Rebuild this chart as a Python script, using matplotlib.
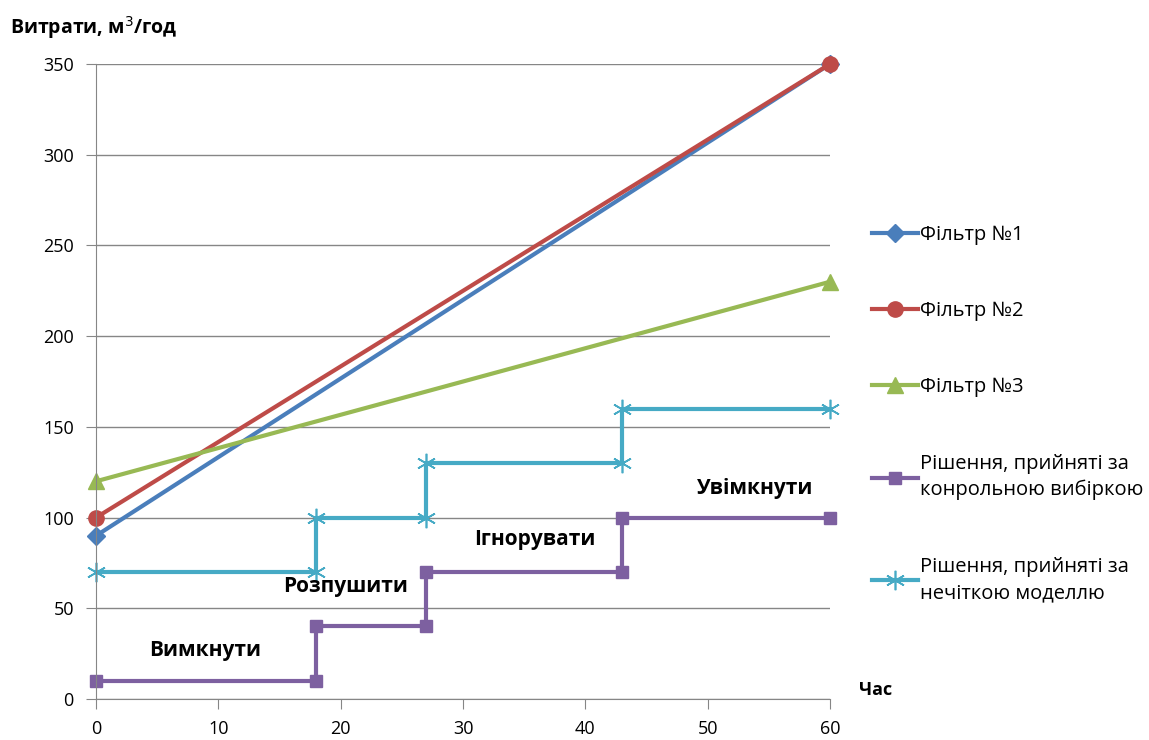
import matplotlib.pyplot as plt

plt.rcParams["font.family"] = ["Open Sans", "DejaVu Sans"]

# data
filter_x = [0, 60]
filter1 = [90, 350]
filter2 = [100, 350]
filter3 = [120, 230]

step_x = [0, 18, 18, 27, 27, 43, 43, 60]
control_decisions = [10, 10, 40, 40, 70, 70, 100, 100]
fuzzy_decisions = [70, 70, 100, 100, 130, 130, 160, 160]

labels = [
    "Фільтр №1",
    "Фільтр №2",
    "Фільтр №3",
    "Рішення, прийняті за\nконрольною вибіркою",
    "Рішення, прийняті за\nнечіткою моделлю",
]
actions = ["Вимкнути", "Розпушити", "Ігнорувати", "Увімкнути"]
action_x = [8.9, 20.4, 35.9, 53.9]
action_y = [27, 62, 88, 116]

colors = ["#4A7EBB", "#BE4B48", "#98B954", "#7D60A0", "#46AAC5"]
star = (6, 2, 0)

fig = plt.figure(figsize=(11.49, 7.4), dpi=100)
ax = fig.add_axes([0.0836, 0.0554, 0.6388, 0.8581])

lw = 3.0
ax.plot(filter_x, filter1, color=colors[0], lw=lw, marker="D", ms=9, label=labels[0])
ax.plot(filter_x, filter2, color=colors[1], lw=lw, marker="o", ms=11, label=labels[1])
ax.plot(filter_x, filter3, color=colors[2], lw=lw, marker="^", ms=11, label=labels[2])
ax.plot(step_x, control_decisions, color=colors[3], lw=lw, marker="s", ms=9, label=labels[3])
ax.plot(step_x, fuzzy_decisions, color=colors[4], lw=lw, marker=star, ms=14,
        mew=1.2, label=labels[4])

for text, x, y in zip(actions, action_x, action_y):
    ax.text(x, y, text, ha="center", va="center", fontsize=15, fontweight="bold")

ax.set_xlim(0, 60)
ax.set_ylim(0, 350)
ax.set_xticks(range(0, 61, 10))
ax.set_yticks(range(0, 351, 50))
ax.tick_params(labelsize=13, colors="#868686", labelcolor="black", length=7, direction="out")
ax.tick_params(axis="y", pad=9)
ax.tick_params(axis="x", pad=8)
ax.grid(axis="y", color="#868686", lw=1)
ax.set_axisbelow(True)
for side in ["top", "right"]:
    ax.spines[side].set_visible(False)
for side in ["left", "bottom"]:
    ax.spines[side].set_color("#868686")
for line in ax.lines:
    line.set_clip_on(False)

fig.text(0.009, 0.963, "Витрати, м$^3$/год", fontsize=14, fontweight="bold", va="center")
fig.text(0.748, 0.068, "Час", fontsize=13, fontweight="bold", va="center")

handles, _ = ax.get_legend_handles_labels()
leg = fig.legend(handles, labels, loc="upper left", bbox_to_anchor=(0.75, 0.71),
                 frameon=False, fontsize=14.5, handlelength=2.3, handletextpad=0.1,
                 labelspacing=2.8, borderpad=0)
for t in leg.get_texts():
    t.set_linespacing(1.4)

fig.savefig("out.png", dpi=100)
